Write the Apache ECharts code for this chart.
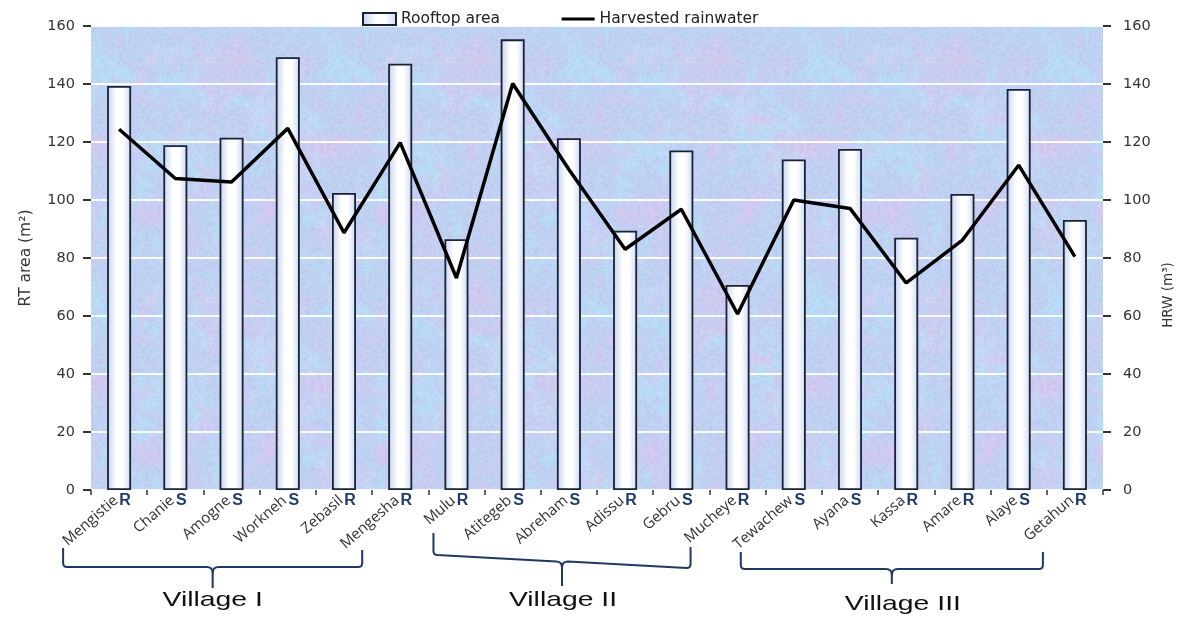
<!DOCTYPE html>
<html>
<head>
<meta charset="utf-8">
<script src="https://cdn.jsdelivr.net/npm/echarts@6/dist/echarts.min.js"></script>
<style>
  html, body { margin: 0; padding: 0; background: #ffffff; overflow: hidden; }
  #chart { width: 1177px; height: 617px; display: block; }
</style>
</head>
<body>
<div id="chart"></div>
<script>
// Households (rooftop catchments) per village
const households = ['Mengistie','Chanie','Amogne','Workneh','Zebasil','Mengesha',
  'Mulu','Atitegeb','Abreham','Adissu','Gebru','Mucheye',
  'Tewachew','Ayana','Kassa','Amare','Alaye','Getahun'];
// Roof type: R = rectangular, S = square
const roofType = ['R','S','S','S','R','R','R','S','S','R','S','R','S','S','R','R','S','R'];
// Rooftop area (m²)
const rooftopArea = [139.3, 118.9, 121.5, 149.2, 102.4, 147.0,
  86.5, 155.4, 121.3, 89.4, 117.1, 70.7,
  114.0, 117.6, 87.0, 102.1, 138.3, 93.1];
// Harvested rainwater (m³)
const harvested = [124.4, 107.4, 106.2, 124.7, 88.7, 119.8,
  73.1, 140.2, 110.5, 83.0, 96.8, 60.7,
  100.0, 97.1, 71.4, 86.2, 112.0, 80.5];
// Village groupings (first and last household index)
const villages = [
  { name: 'Village I',   from: 0,  to: 5 },
  { name: 'Village II',  from: 6,  to: 11 },
  { name: 'Village III', from: 12, to: 17 }
];
const yTicks = [0, 20, 40, 60, 80, 100, 120, 140, 160];

// Mottled blue/pink paper texture for the plotting area
function makeTexture() {
  const size = 240;
  const cv = document.createElement('canvas');
  cv.width = size; cv.height = size;
  const ctx = cv.getContext('2d');
  const img = ctx.createImageData(size, size);
  const hash = (x, y, s) => { const v = Math.sin(x * 127.1 + y * 311.7 + s * 74.7) * 43758.5453; return v - Math.floor(v); };
  const noise = (x, y, period, s) => {
    const xi = Math.floor(x), yi = Math.floor(y);
    const xf = x - xi, yf = y - yi;
    const u = xf * xf * (3 - 2 * xf), v = yf * yf * (3 - 2 * yf);
    const w = (k) => ((k % period) + period) % period;
    const a = hash(w(xi), w(yi), s), b = hash(w(xi + 1), w(yi), s);
    const c = hash(w(xi), w(yi + 1), s), d = hash(w(xi + 1), w(yi + 1), s);
    return a + (b - a) * u + (c - a) * v + (a - b - c + d) * u * v;
  };
  for (let y = 0; y < size; y++) {
    for (let x = 0; x < size; x++) {
      const pink = noise(x / 30, y / 30, 8, 1) * 0.6 + noise(x / 10, y / 10, 24, 2) * 0.4;
      const cyan = noise(x / 24, y / 24, 10, 3) * 0.55 + noise(x / 7, y / 7, 34, 4) * 0.45;
      const grain = noise(x / 1.5, y / 1.5, 160, 5) - 0.5;
      const p = Math.max(0, Math.min(1, (pink - 0.45) * 2.0));
      const q = Math.max(0, Math.min(1, (cyan - 0.48) * 2.0));
      let r = 192 + p * 24 - q * 12;
      let g = 208 - p * 10 + q * 16;
      let b = 242 - p * 2 + q * 5;
      r += grain * 14; g += grain * 14; b += grain * 8;
      const i = (y * size + x) * 4;
      img.data[i] = r; img.data[i + 1] = g; img.data[i + 2] = b; img.data[i + 3] = 255;
    }
  }
  ctx.putImageData(img, 0, 0);
  return cv;
}

const chart = echarts.init(document.getElementById('chart'));
const textColor = '#333333';
const labelFont = '"Open Sans", "Liberation Sans", sans-serif';
const wideFont = '"DejaVu Sans", Verdana, sans-serif';

const option = {
  animation: false,
  textStyle: { fontFamily: labelFont },
  legend: {
    top: 6,
    left: 357,
    itemGap: 60,
    itemWidth: 33,
    itemHeight: 12,
    textStyle: { fontSize: 15.5, color: '#222', fontFamily: wideFont },
    data: [
      { name: 'Rooftop area', icon: 'rect' },
      { name: 'Harvested rainwater', itemStyle: { opacity: 0, color: 'rgba(0,0,0,0)' }, lineStyle: { width: 3, color: '#000' } }
    ]
  },
  grid: {
    left: 91, right: 74, top: 26, bottom: 127,
    outerBoundsMode: 'none',
    containLabel: false,
    show: true,
    borderWidth: 0,
    backgroundColor: { image: makeTexture(), repeat: 'repeat' }
  },
  xAxis: [
    {
      type: 'category',
      data: households,
      axisLine: { show: false },
      axisTick: { show: true, alignWithLabel: false, length: 5, lineStyle: { color: '#333', width: 1.5 } },
      axisLabel: {
        interval: 0,
        rotate: 41,
        margin: 6,
        fontSize: 15,
        color: textColor,
        fontFamily: labelFont,
        padding: [0, 4, 0, 0]
      }
    },
    {
      type: 'category',
      data: roofType,
      position: 'bottom',
      axisLine: { show: false },
      axisTick: { show: false },
      axisLabel: {
        interval: 0,
        margin: 3,
        fontSize: 16,
        fontWeight: 'bold',
        color: '#1f3a70',
        fontFamily: '"Liberation Sans", Arial, sans-serif',
        padding: [0, 0, 0, 12]
      }
    }
  ],
  yAxis: [
    {
      type: 'value',
      min: yTicks[0], max: yTicks[yTicks.length - 1], interval: 20,
      name: 'RT area (m²)',
      nameLocation: 'middle',
      nameGap: 57,
      nameTextStyle: { fontSize: 15.5, color: textColor, fontFamily: wideFont },
      axisLine: { show: false },
      axisTick: { show: true, length: 8, lineStyle: { color: '#333', width: 2 } },
      axisLabel: { fontSize: 14.5, color: textColor, margin: 16, fontFamily: wideFont },
      splitLine: { show: true, lineStyle: { color: 'rgba(255,255,255,0.9)', width: 2 } }
    },
    {
      type: 'value',
      min: yTicks[0], max: yTicks[yTicks.length - 1], interval: 20,
      name: 'HRW (m³)',
      nameLocation: 'middle',
      nameGap: 53,
      nameRotate: 90,
      nameTextStyle: { fontSize: 13.5, color: textColor, fontFamily: wideFont, padding: [0, 74, 0, 0] },
      axisLine: { show: false },
      axisTick: { show: true, length: 8, lineStyle: { color: '#333', width: 2 } },
      axisLabel: { fontSize: 14.5, color: textColor, margin: 20, fontFamily: wideFont },
      splitLine: { show: false }
    }
  ],
  series: [
    {
      name: 'Rooftop area',
      type: 'bar',
      data: rooftopArea,
      barWidth: 24,
      itemStyle: {
        color: {
          type: 'linear', x: 0, y: 0, x2: 1, y2: 0,
          colorStops: [
            { offset: 0, color: '#c4d3ee' },
            { offset: 0.4, color: '#ffffff' },
            { offset: 0.65, color: '#ffffff' },
            { offset: 1, color: '#ccd9f0' }
          ]
        },
        borderColor: '#1a2236',
        borderWidth: 1.8
      }
    },
    {
      name: 'Harvested rainwater',
      type: 'line',
      yAxisIndex: 1,
      data: harvested,
      symbol: 'none',
      lineStyle: { color: '#000000', width: 3.5 },
      itemStyle: { color: '#000000' },
      z: 5
    }
  ]
};

chart.setOption(option);

// Curly braces grouping households by village, placed from the category positions
const braceSpecs = [
  { lOff: -56, rOff: -38, lTop: 548, rTop: 550, lBot: 567, rBot: 567, tip: 588, textY: 600, textX: 0 },
  { lOff: -23, rOff: -47, lTop: 533, rTop: 547, lBot: 555, rBot: 568, tip: 586, textY: 600, textX: 1 },
  { lOff: -53, rOff: -32, lTop: 552, rTop: 552, lBot: 569, rBot: 569, tip: 584, textY: 604, textX: 11 }
];
const braceColor = '#1f3864';

// Sample a quadratic curve into polyline points
function quad(p0, c, p1, n) {
  const pts = [];
  for (let i = 1; i <= n; i++) {
    const t = i / n, u = 1 - t;
    pts.push([u * u * p0[0] + 2 * u * t * c[0] + t * t * p1[0], u * u * p0[1] + 2 * u * t * c[1] + t * t * p1[1]]);
  }
  return pts;
}

const graphics = [];
villages.forEach((v, k) => {
  const s = braceSpecs[k];
  const x1 = chart.convertToPixel({ xAxisIndex: 0 }, v.from) + s.lOff;
  const x2 = chart.convertToPixel({ xAxisIndex: 0 }, v.to) + s.rOff;
  const cx = (x1 + x2) / 2;
  const cy = (s.lBot + s.rBot) / 2;
  const r = 4;
  const left = [[x1, s.lTop], [x1, s.lBot - r]]
    .concat(quad([x1, s.lBot - r], [x1, s.lBot], [x1 + r, s.lBot], 4))
    .concat([[cx - 6, cy]])
    .concat(quad([cx - 6, cy], [cx, cy], [cx, cy + 6], 4))
    .concat([[cx, s.tip]]);
  const right = [[x2, s.rTop], [x2, s.rBot - r]]
    .concat(quad([x2, s.rBot - r], [x2, s.rBot], [x2 - r, s.rBot], 4))
    .concat([[cx + 6, cy]])
    .concat(quad([cx + 6, cy], [cx, cy], [cx, cy + 6], 4));
  [left, right].forEach((pts) => {
    graphics.push({
      type: 'polyline',
      shape: { points: pts },
      style: { fill: null, stroke: braceColor, lineWidth: 2 },
      silent: true
    });
  });
  graphics.push({
    type: 'text',
    x: cx + s.textX,
    y: s.textY,
    scaleX: 1.35,
    style: {
      text: v.name,
      fill: '#111',
      font: '21px "Liberation Sans", Arial, sans-serif',
      textAlign: 'center',
      textVerticalAlign: 'middle'
    },
    silent: true
  });
});
chart.setOption({ graphic: graphics });
</script>
</body>
</html>
